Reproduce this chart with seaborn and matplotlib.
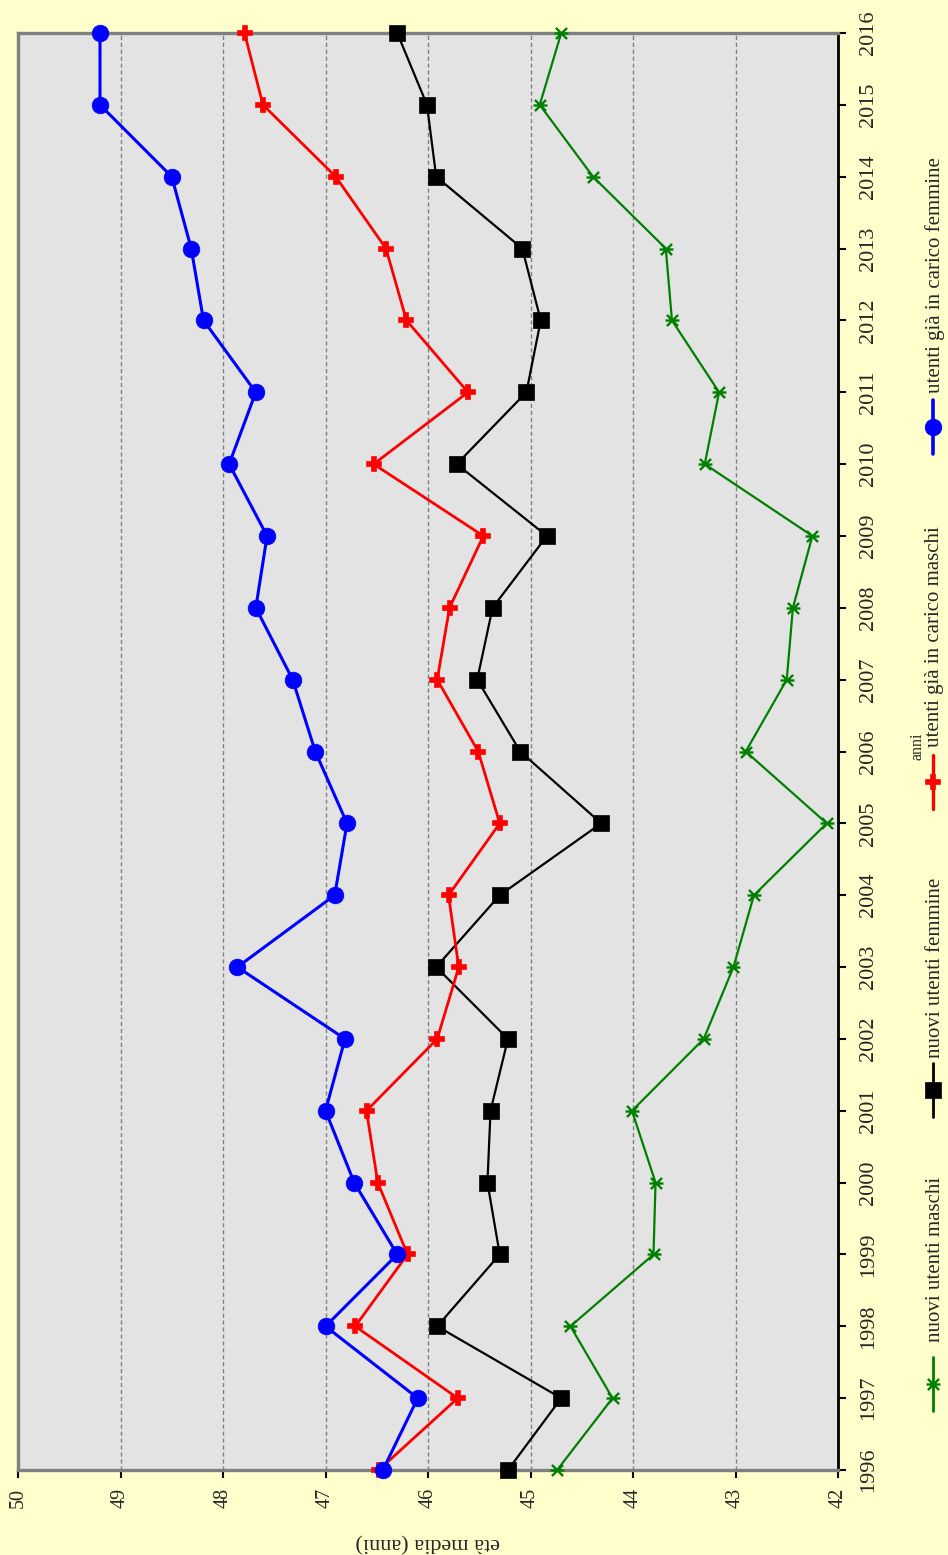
import matplotlib
matplotlib.use("Agg")
import matplotlib.pyplot as plt
from matplotlib.path import Path
from matplotlib.lines import Line2D
import seaborn as sns

# ---------------- data ----------------
anni = list(range(1996, 2017))
eta_ticks = [42, 43, 44, 45, 46, 47, 48, 49, 50]

nuovi_maschi = [44.74, 44.20, 44.61, 43.80, 43.78, 44.01, 43.31, 43.02, 42.82, 42.11, 42.90,
                42.50, 42.44, 42.25, 43.30, 43.16, 43.62, 43.68, 44.39, 44.91, 44.70]
nuovi_femmine = [45.22, 44.70, 45.91, 45.30, 45.42, 45.39, 45.22, 45.92, 45.30, 44.31, 45.10,
                 45.52, 45.37, 44.84, 45.72, 45.04, 44.90, 45.08, 45.92, 46.01, 46.30]
carico_maschi = [46.48, 45.71, 46.71, 46.20, 46.49, 46.60, 45.91, 45.70, 45.80, 45.30, 45.51,
                 45.91, 45.79, 45.46, 46.53, 45.61, 46.21, 46.41, 46.90, 47.61, 47.79]
carico_femmine = [46.44, 46.10, 47.00, 46.30, 46.72, 47.00, 46.81, 47.86, 46.91, 46.79, 47.10,
                  47.32, 47.68, 47.57, 47.94, 47.68, 48.19, 48.31, 48.50, 49.20, 49.20]

labels = ["nuovi utenti maschi", "nuovi utenti femmine",
          "utenti già in carico maschi", "utenti già in carico femmine"]

# ---------------- style ----------------
sns.set_style("white")
plt.rcParams["font.family"] = ["Liberation Serif", "DejaVu Serif"]

W, H = 948, 1555
BG = "#FFFFCC"
fig = plt.figure(figsize=(W / 100, H / 100), dpi=100, facecolor=BG)


def fx(x):
    return x / W


def fy(y):
    return 1 - y / H


ax = fig.add_axes([fx(18), fy(1470), (838 - 18) / W, (1470 - 33) / H])
ax.set_facecolor("#E3E3E3")

star = Path([(-1, -1), (1, 1), (-1, 1), (1, -1), (-1.25, 0), (1.25, 0)],
            [Path.MOVETO, Path.LINETO] * 3)

series = [
    (nuovi_maschi, "#008000", star, 10, 1.6, 1.7),
    (nuovi_femmine, "#000000", "s", 11, 1.6, 0.5),
    (carico_maschi, "#FF0000", "P", 10, 2.0, 1.2),
    (carico_femmine, "#0000FF", "o", 12, 2.2, 0.5),
]

for vals, col, mk, ms, lw, mew in series:
    sns.lineplot(x=vals, y=anni, orient="y", sort=False, estimator=None, ax=ax,
                 color=col, marker=mk, markersize=ms, linewidth=lw,
                 markeredgecolor=col, markerfacecolor=col, markeredgewidth=mew,
                 clip_on=False, legend=False, zorder=3)

ax.set_xlim(50, 42)
ax.set_ylim(1996, 2016)
ax.set_xticks(eta_ticks)
ax.set_xticklabels([str(t) for t in eta_ticks], rotation=90, fontsize=14.5)
ax.set_yticks(anni)
ax.yaxis.tick_right()
ax.set_yticklabels([str(a) for a in anni], rotation=90, fontsize=16)
for lbl in ax.get_yticklabels():
    lbl.set_va("center")
    lbl.set_ha("left")

ax.tick_params(axis="x", direction="out", length=6, width=1.5, color="black", pad=7,
               bottom=True)
ax.tick_params(axis="y", direction="out", length=6, width=1.5, color="black", pad=9,
               right=True, left=False)

ax.grid(False)
ax.xaxis.grid(True, linestyle=(0, (3, 2)), color="#808080", linewidth=1.0)
ax.set_axisbelow(True)

for side in ["left", "top", "bottom"]:
    ax.spines[side].set_color("#808080")
    ax.spines[side].set_linewidth(2.4)
ax.spines["right"].set_color("black")
ax.spines["right"].set_linewidth(2.0)
ax.set_xlabel("")
ax.set_ylabel("")

# axis titles (rotated chart)
fig.text(fx(428), fy(1542), "età media (anni)", rotation=180, ha="center", va="center",
         fontsize=16)
fig.text(fx(918), fy(746), "anni", rotation=90, ha="center", va="center", fontsize=11.5)

# ---------------- legend (drawn vertically) ----------------
leg_pos = [(1384, 1342), (1090, 1058), (782, 747), (427, 393)]
xl = 933
for (vals, col, mk, ms, lw, mew), lab, (cy, ty) in zip(series, labels, leg_pos):
    fig.add_artist(Line2D([fx(xl), fx(xl)], [fy(cy + 27), fy(cy - 27)],
                          transform=fig.transFigure, color=col, linewidth=lw + 0.4))
    fig.add_artist(Line2D([fx(xl)], [fy(cy)], transform=fig.transFigure, color=col,
                          marker=mk, markersize=ms, markeredgecolor=col,
                          markerfacecolor=col, markeredgewidth=mew, linestyle="none"))
    fig.text(fx(xl + 2), fy(ty), lab, rotation=90, rotation_mode="anchor",
             ha="left", va="center", fontsize=15)

fig.savefig("out.png", dpi=100, facecolor=BG)
